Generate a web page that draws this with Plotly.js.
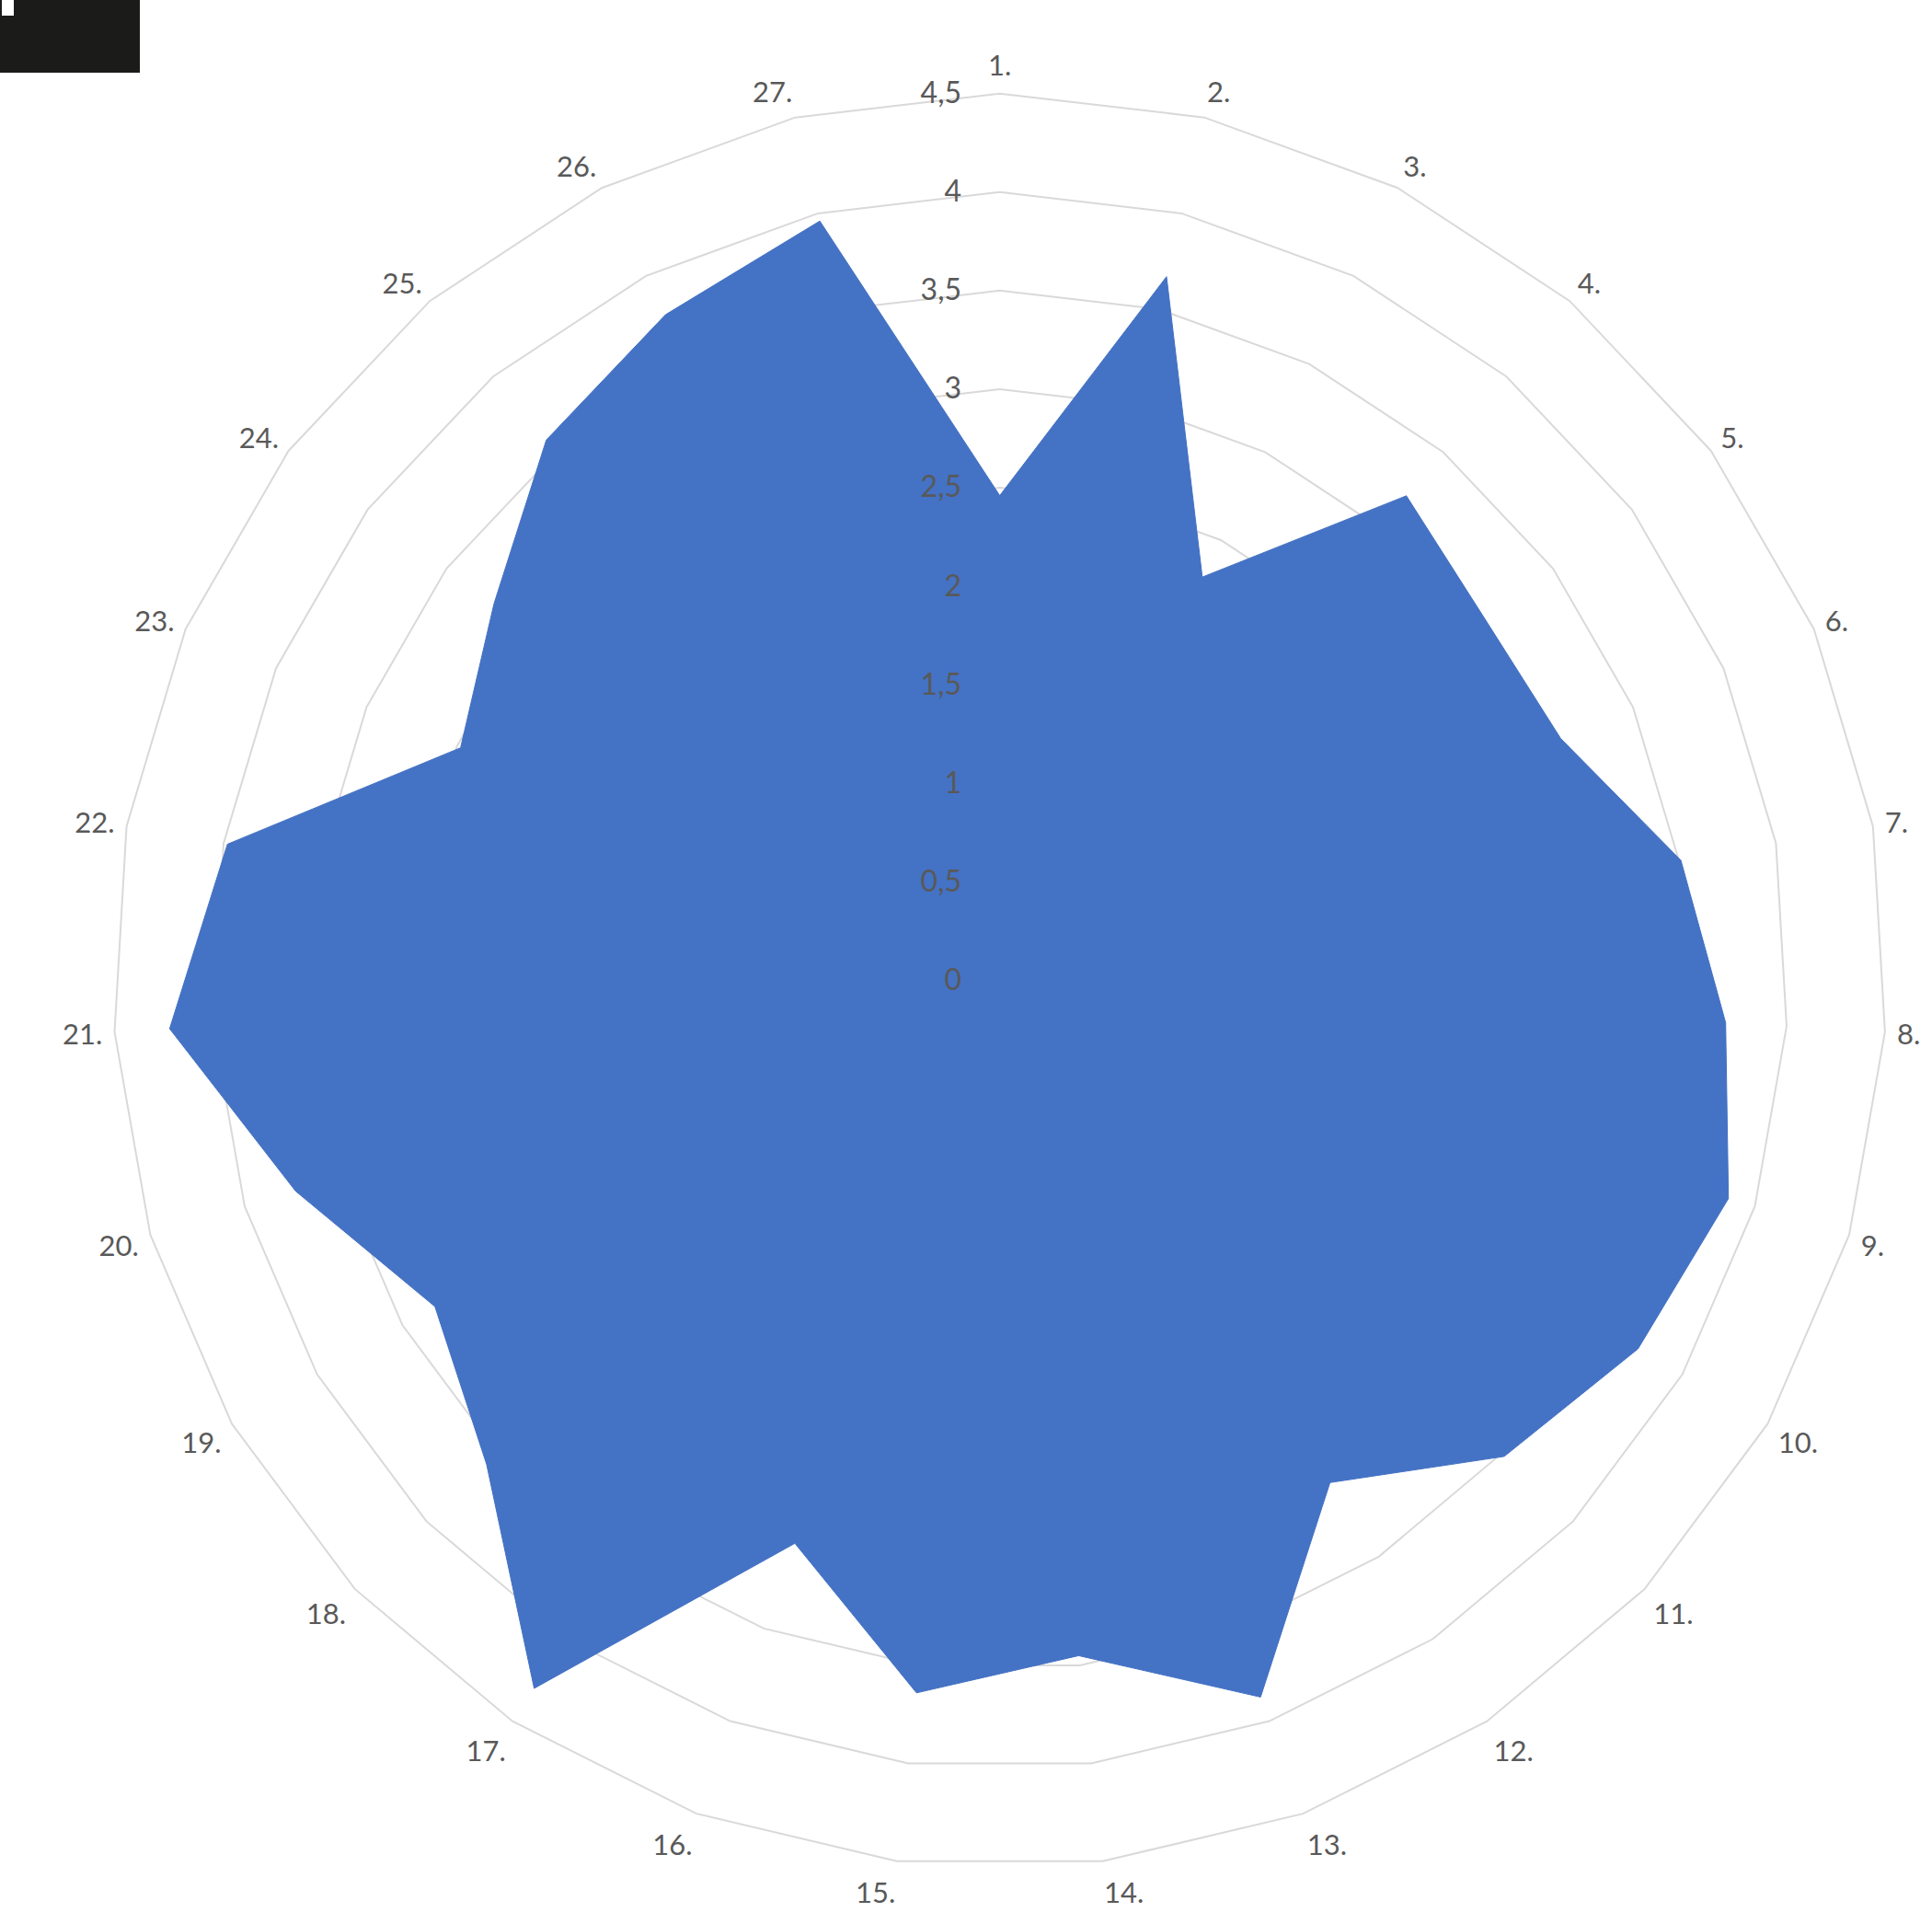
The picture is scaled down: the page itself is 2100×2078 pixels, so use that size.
<!DOCTYPE html>
<html>
<head>
<meta charset="utf-8">
<script src="https://cdn.plot.ly/plotly-3.0.1.min.js"></script>
<style>html,body{margin:0;padding:0;background:#fff;}#chart{width:2100px;height:2078px;}</style>
</head>
<body>
<div id="chart"></div>
<script>
const categories = ["1.","2.","3.","4.","5.","6.","7.","8.","9.","10.","11.","12.","13.","14.","15.","16.","17.","18.","19.","20.","21.","22.","23.","24.","25.","26.","27."];
const values = [2.46,3.67,2.29,3.21,3.07,3.10,3.51,3.69,3.86,3.74,3.52,3.05,3.87,3.45,3.64,3.04,4.30,3.58,3.31,3.73,4.22,3.98,2.98,3.20,3.58,3.78,3.96];
const radialTicks = [0,0.5,1,1.5,2,2.5,3,3.5,4,4.5];

const W = 2100, H = 2078;
const cx = 1086.7, cy = 1065.5, R = 963.8;

const trace = {
  type: 'scatterpolar',
  r: values.concat([values[0]]),
  theta: categories.concat([categories[0]]),
  mode: 'lines',
  fill: 'toself',
  fillcolor: '#4472C4',
  line: {color: '#4472C4', width: 1},
  hoverinfo: 'skip'
};

const layout = {
  width: W, height: H,
  margin: {l:0, r:0, t:0, b:0},
  paper_bgcolor: '#ffffff',
  separators: ', ',
  showlegend: false,
  font: {family: 'Lato, "Open Sans", sans-serif', size: 32, color: '#595959'},
  polar: {
    domain: {x: [(cx - R)/W, (cx + R)/W], y: [(H - cy - R)/H, (H - cy + R)/H]},
    bgcolor: 'rgba(0,0,0,0)',
    gridshape: 'linear',
    angularaxis: {
      type: 'category',
      categoryarray: categories,
      direction: 'clockwise',
      rotation: 90,
      showgrid: false,
      showline: true,
      linecolor: '#d9d9d9',
      linewidth: 2,
      ticks: 'outside',
      ticklen: 6,
      tickcolor: 'rgba(0,0,0,0)',
      tickfont: {family: 'Lato, "Open Sans", sans-serif', size: 31, color: '#595959'}
    },
    radialaxis: {
      range: [0, 4.5],
      tickvals: radialTicks,
      angle: 90,
      tickangle: 90,
      side: 'counterclockwise',
      showline: false,
      ticks: 'outside',
      ticklen: 30,
      tickcolor: 'rgba(0,0,0,0)',
      showgrid: true,
      gridcolor: '#d9d9d9',
      gridwidth: 2,
      layer: 'above traces',
      tickfont: {family: 'Lato, "Open Sans", sans-serif', size: 32, color: '#595959'}
    }
  },
  shapes: [
    {type: 'rect', xref: 'paper', yref: 'paper', x0: 0, x1: 152/W, y0: 1 - 79/H, y1: 1,
     fillcolor: '#1b1b19', line: {width: 0}, layer: 'above'},
    {type: 'rect', xref: 'paper', yref: 'paper', x0: 2/W, x1: 15/W, y0: 1 - 17/H, y1: 1,
     fillcolor: '#ffffff', line: {width: 0}, layer: 'above'}
  ]
};

Plotly.newPlot('chart', [trace], layout, {displayModeBar: false, staticPlot: true});
</script>
</body>
</html>
